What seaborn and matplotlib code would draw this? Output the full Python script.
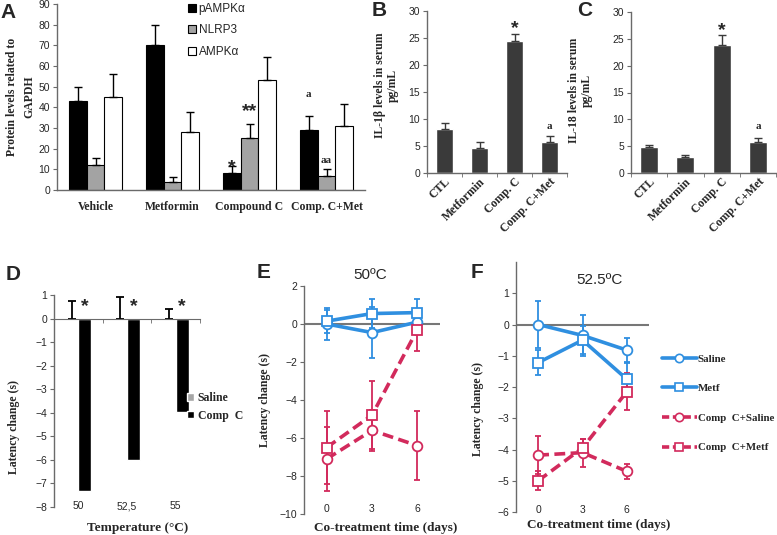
import numpy as np
import pandas as pd
import matplotlib
matplotlib.use("Agg")
import matplotlib.pyplot as plt
import seaborn as sns
from matplotlib.patches import Patch
from matplotlib.lines import Line2D

# ---- data -------------------------------------------------------------
A_GROUPS = ["Vehicle", "Metformin", "Compound C", "Comp. C+Met"]
A_PROTEINS = ["pAMPKα", "NLRP3", "AMPKα"]
A_PAMPK = [43, 70, 8, 29]
A_PAMPK_ERR = [7, 10, 3.5, 7]
A_NLRP3 = [12, 4, 25, 7]
A_NLRP3_ERR = [3.5, 2.5, 7, 3]
A_AMPK = [45, 28, 53, 31]
A_AMPK_ERR = [11, 9.5, 11.5, 10.5]

BC_GROUPS = ["CTL", "Metformin", "Comp. C", "Comp. C+Met"]
B_IL1B = [8.2, 4.7, 24.5, 5.8]
B_IL1B_ERR = [1.0, 1.1, 1.2, 1.0]
C_IL18 = [4.9, 3.0, 23.8, 5.7]
C_IL18_ERR = [0.3, 0.3, 2.0, 0.8]

D_TEMPS = ["50", "52,5", "55"]
D_SALINE = [0.0, 0.0, 0.0]
D_SALINE_ERR = [0.75, 0.9, 0.4]
D_COMPC = [-7.3, -6.0, -3.95]

DAYS = [0, 3, 6]
E_SALINE = [0.0, -0.45, 0.1]
E_SALINE_ERR = [0.85, 1.35, 0.5]
E_METF = [0.15, 0.55, 0.6]
E_METF_ERR = [0.6, 0.75, 0.7]
E_CC_SALINE = [-7.1, -5.6, -6.4]
E_CC_SALINE_ERR = [1.7, 1.1, 1.8]
E_CC_METF = [-6.5, -4.8, -0.3]
E_CC_METF_ERR = [1.9, 1.8, 1.1]

F_SALINE = [0.0, -0.35, -0.82]
F_SALINE_ERR = [0.75, 0.65, 0.4]
F_METF = [-1.22, -0.5, -1.75]
F_METF_ERR = [0.4, 0.45, 0.55]
F_CC_SALINE = [-4.18, -4.1, -4.7]
F_CC_SALINE_ERR = [0.6, 0.45, 0.25]
F_CC_METF = [-5.0, -3.95, -2.15]
F_CC_METF_ERR = [0.3, 0.3, 0.6]

# ---- style ------------------------------------------------------------
sns.set_style("ticks")
plt.rcParams["font.family"] = ["Liberation Sans", "DejaVu Sans"]
SERIF = ["Liberation Serif", "DejaVu Serif"]
BLUE = "#2F8FE0"
RED = "#D22A5C"
AXC = "#6A6A6A"

W, H = 777, 535
fig = plt.figure(figsize=(W / 100, H / 100), dpi=100)


def px_axes(l, t, r, b):
    return fig.add_axes([l / W, 1 - b / H, (r - l) / W, (b - t) / H])


def excel_axes(ax):
    for s in ["top", "right"]:
        ax.spines[s].set_visible(False)
    for s in ["left", "bottom"]:
        ax.spines[s].set_color(AXC)
        ax.spines[s].set_linewidth(1)
    ax.tick_params(axis="y", labelsize=7.5, length=3, color=AXC, pad=2)


def ylab(ax, text, x, y=0.5, ls=1.1):
    ax.set_ylabel(text, family=SERIF, fontweight="bold", fontsize=8.5,
                  linespacing=ls)
    ax.yaxis.set_label_coords(x, y)


def letter(x, y, s):
    fig.text(x / W, 1 - y / H, s, fontsize=15, fontweight="bold",
             va="center", ha="left")


# ---- A ----------------------------------------------------------------
axA = px_axes(57, 4, 365, 190)
dfA = pd.DataFrame({
    "group": A_GROUPS * 3,
    "protein": np.repeat(A_PROTEINS, 4),
    "value": A_PAMPK + A_NLRP3 + A_AMPK,
})
sns.barplot(data=dfA, x="group", y="value", hue="protein", ax=axA,
            palette=["black", "#A3A3A3", "white"], edgecolor="black",
            linewidth=0.8, width=0.69, gap=0, errorbar=None, legend=False)
bw = 0.23
for j, (vals, errs) in enumerate([(A_PAMPK, A_PAMPK_ERR), (A_NLRP3, A_NLRP3_ERR),
                                   (A_AMPK, A_AMPK_ERR)]):
    xs = np.arange(4) + (j - 1) * bw
    axA.errorbar(xs, vals, yerr=[np.zeros(4), errs], fmt="none", ecolor="black",
                 elinewidth=1, capsize=3, capthick=1)
axA.set_ylim(0, 90)
axA.set_yticks(range(0, 91, 10))
axA.set_xlim(-0.5, 3.5)
excel_axes(axA)
axA.tick_params(axis="x", length=0, pad=8)
for t in axA.get_xticklabels():
    t.set_family(SERIF)
    t.set_fontweight("bold")
    t.set_fontsize(8.5)
axA.set_xlabel("")
ylab(axA, "Protein levels related to\nGAPDH", -0.07, 0.5, ls=1.55)
axA.text(2 - bw, 11, "*", ha="center", va="center", fontsize=14, fontweight="bold")
axA.text(2, 38, "**", ha="center", va="center", fontsize=14, fontweight="bold")
axA.text(3 - bw, 46, "a", ha="center", va="center", fontsize=8, family=SERIF, fontweight="bold")
axA.text(3, 14.5, "aa", ha="center", va="center", fontsize=8, family=SERIF, fontweight="bold")
hA = [Patch(facecolor=c, edgecolor="black", linewidth=0.8)
      for c in ["black", "#A3A3A3", "white"]]
axA.legend(hA, A_PROTEINS, loc="upper left", bbox_to_anchor=(188 / W, 1 - 3 / H),
           bbox_transform=fig.transFigure, frameon=False, fontsize=8.5,
           handlelength=0.7, handleheight=0.7, handletextpad=0.2,
           labelspacing=0.8, borderpad=0, borderaxespad=0)


# ---- B, C -------------------------------------------------------------
def serum_panel(ax, vals, errs, label, ylab_x, ylab_y, star_y, a_y):
    sns.barplot(x=BC_GROUPS, y=vals, ax=ax, color="#3A3A3A", width=0.5,
                errorbar=None, saturation=1)
    ax.errorbar(np.arange(4), vals, yerr=[np.zeros(4), errs], fmt="none",
                ecolor="#3A3A3A", elinewidth=1, capsize=3, capthick=1)
    ax.set_ylim(0, 30)
    ax.set_yticks(range(0, 31, 5))
    ax.set_xlim(-0.5, 3.5)
    excel_axes(ax)
    ax.set_xticks([-0.5, 0.5, 1.5, 2.5, 3.5], minor=True)
    ax.tick_params(axis="x", which="minor", length=3, color=AXC)
    ax.tick_params(axis="x", which="major", length=0, pad=2)
    ax.set_xticks(range(4))
    ax.set_xticklabels(BC_GROUPS, rotation=45, ha="right", rotation_mode="anchor",
                       family=SERIF, fontweight="bold", fontsize=8.5)
    ylab(ax, label, ylab_x, ylab_y)
    ax.text(2, star_y, "*", ha="center", va="center", fontsize=14, fontweight="bold")
    ax.text(3, a_y, "a", ha="center", va="center", fontsize=8, family=SERIF,
            fontweight="bold")


axB = px_axes(427, 11, 567, 173)
serum_panel(axB, B_IL1B, B_IL1B_ERR, "IL-1β levels in serum\npg/mL", -0.2, 0.54,
            26.8, 8.7)
axC = px_axes(631, 12, 776, 173)
serum_panel(axC, C_IL18, C_IL18_ERR, "IL-18 levels in serum\npg/mL", -0.265, 0.515,
            26.6, 8.7)

# ---- D ----------------------------------------------------------------
axD = px_axes(54, 295, 200, 507)
dfD = pd.DataFrame({
    "temp": D_TEMPS * 2,
    "group": ["Saline"] * 3 + ["Comp  C"] * 3,
    "value": D_SALINE + D_COMPC,
})
sns.barplot(data=dfD, x="temp", y="value", hue="group", ax=axD,
            palette=["#A6A6A6", "black"], width=0.54, gap=0, errorbar=None,
            saturation=1, legend=False)
dw = 0.27
axD.errorbar(np.arange(3) - dw / 2, D_SALINE, yerr=[np.zeros(3), D_SALINE_ERR],
             fmt="none", ecolor="black", elinewidth=1.3, capsize=3, capthick=1.3)
axD.set_ylim(-8, 1)
axD.set_yticks(range(-8, 2))
axD.set_xlim(-0.5, 2.5)
excel_axes(axD)
axD.spines["bottom"].set_visible(False)
axD.spines["top"].set_visible(True)
axD.spines["top"].set_position(("data", 0))
axD.spines["top"].set_color(AXC)
axD.set_xticks([0.5, 1.5, 2.5], minor=True)
axD.tick_params(axis="x", which="minor", top=True, bottom=False, direction="in",
                length=3, color=AXC)
axD.tick_params(axis="x", which="major", top=False, bottom=True, length=0,
                labelsize=7.5, pad=-4)
axD.set_xlabel("Temperature (°C)", family=SERIF, fontweight="bold", fontsize=9.5)
axD.xaxis.set_label_coords(0.57, -0.07)
ylab(axD, "Latency change (s)", -0.23, 0.377)
for i in range(3):
    axD.text(i + dw / 2, 0.5, "*", ha="center", va="center", fontsize=14,
             fontweight="bold")
hD = [Patch(facecolor="#A6A6A6"), Patch(facecolor="black")]
axD.legend(hD, ["Saline", "Comp  C"], loc="upper left",
           bbox_to_anchor=(187 / W, 1 - 392 / H), bbox_transform=fig.transFigure,
           frameon=False, prop={"family": SERIF, "weight": "bold", "size": 8.5},
           handlelength=0.6, handleheight=0.6, handletextpad=0.3,
           labelspacing=0.5, borderpad=0, borderaxespad=0)


# ---- E, F -------------------------------------------------------------
def line_panel(ax, series, ylim, yticks, title, title_xy, pad):
    for vals, errs, col, mk, ls in series:
        ax.errorbar(DAYS, vals, yerr=errs, fmt="none", ecolor=col, elinewidth=1.3,
                    capsize=2.5, capthick=1.3, zorder=2)
        sns.lineplot(x=DAYS, y=vals, ax=ax, color=col, linewidth=2.6, linestyle=ls,
                     marker=mk, markersize=7, markerfacecolor="white",
                     markeredgecolor=col, markeredgewidth=1.3, zorder=3,
                     errorbar=None)
    ax.axhline(0, color="#777777", lw=1.5, zorder=1)
    ax.set_xlim(-1.5, 7.5)
    ax.set_ylim(*ylim)
    ax.set_yticks(yticks)
    excel_axes(ax)
    ax.spines["bottom"].set_visible(False)
    ax.set_xticks(DAYS)
    ax.tick_params(axis="x", which="major", length=0, labelsize=7.5, pad=pad)
    ax.text(title_xy[0], title_xy[1], title, transform=ax.transAxes, ha="center",
            va="center", fontsize=11)


axE = px_axes(304, 286, 440, 514)
line_panel(axE, [
    (E_SALINE, E_SALINE_ERR, BLUE, "o", "-"),
    (E_METF, E_METF_ERR, BLUE, "s", "-"),
    (E_CC_SALINE, E_CC_SALINE_ERR, RED, "o", (0, (3, 1.5))),
    (E_CC_METF, E_CC_METF_ERR, RED, "s", (0, (3, 1.5))),
], (-10, 2), range(-10, 3, 2), "50ºC", ((370 - 304) / 136, (514 - 275) / 228), -7)
axE.set_xlabel("Co-treatment time (days)", family=SERIF, fontweight="bold",
               fontsize=9.5)
axE.xaxis.set_label_coords(0.6, -0.035)
ylab(axE, "Latency change (s)", -0.24)

axF = px_axes(516, 262, 649, 512)
line_panel(axF, [
    (F_SALINE, F_SALINE_ERR, BLUE, "o", "-"),
    (F_METF, F_METF_ERR, BLUE, "s", "-"),
    (F_CC_SALINE, F_CC_SALINE_ERR, RED, "o", (0, (3, 1.5))),
    (F_CC_METF, F_CC_METF_ERR, RED, "s", (0, (3, 1.5))),
], (-6, 2), range(-6, 2), "52.5ºC", ((600 - 516) / 133, (512 - 280) / 250), -5)
axF.set_xlabel("Co-treatment time (days)", family=SERIF, fontweight="bold",
               fontsize=9.5)
axF.xaxis.set_label_coords(0.62, -0.028)
ylab(axF, "Latency change (s)", -0.24, 0.41)

hF = [Line2D([], [], color=c, lw=2.6, ls=ls, marker=m, markersize=6,
             markerfacecolor="white", markeredgecolor=c, markeredgewidth=1.2)
      for c, ls, m in [(BLUE, "-", "o"), (BLUE, "-", "s"),
                       (RED, (0, (2, 1)), "o"), (RED, (0, (2, 1)), "s")]]
axF.legend(hF, ["Saline", "Metf", "Comp  C+Saline", "Comp  C+Metf"],
           loc="upper left", bbox_to_anchor=(662 / W, 1 - 354 / H),
           bbox_transform=fig.transFigure, frameon=False,
           prop={"family": SERIF, "weight": "bold", "size": 7.8},
           handlelength=3.2, handletextpad=0.1, labelspacing=1.85,
           borderpad=0, borderaxespad=0)

# ---- panel letters ----------------------------------------------------
letter(0, 12, "A")
letter(372, 11, "B")
letter(577, 10, "C")
letter(6, 275, "D")
letter(257, 273, "E")
letter(471, 272, "F")

fig.savefig("out.png", dpi=100)
